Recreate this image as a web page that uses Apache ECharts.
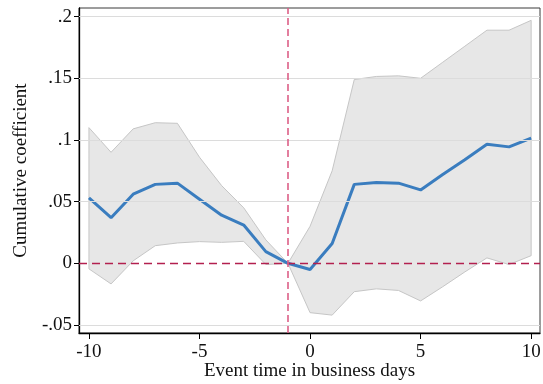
<!DOCTYPE html>
<html>
<head>
<meta charset="utf-8">
<style>
  html, body { margin: 0; padding: 0; background: #fff; }
  #chart { width: 543px; height: 384px; }
</style>
<script src="https://cdn.jsdelivr.net/npm/echarts@6/dist/echarts.min.js"></script>
</head>
<body>
<div id="chart"></div>
<script>
// Event-study estimates: cumulative coefficient with confidence band
const eventDays = [-10, -9, -8, -7, -6, -5, -4, -3, -2, -1, 0, 1, 2, 3, 4, 5, 6, 7, 8, 9, 10];
const coef  = [0.053, 0.037, 0.056, 0.064, 0.065, 0.052, 0.039, 0.031, 0.0095, 0, -0.005, 0.016, 0.064, 0.0655, 0.065, 0.0595, 0.072, 0.084, 0.0966, 0.0944, 0.1015];
const upper = [0.110, 0.090, 0.109, 0.114, 0.1135, 0.086, 0.063, 0.045, 0.019, 0, 0.030, 0.075, 0.149, 0.1515, 0.152, 0.150, 0.163, 0.176, 0.189, 0.189, 0.197];
const lower = [-0.0045, -0.0167, 0.002, 0.0143, 0.0165, 0.0176, 0.017, 0.0178, -0.001, 0, -0.040, -0.042, -0.023, -0.0207, -0.022, -0.0305, -0.019, -0.007, 0.0044, -0.001, 0.0062];

const xTicks = [-10, -5, 0, 5, 10];
const yTicks = [-0.05, 0, 0.05, 0.1, 0.15, 0.2];
const yTickLabels = ['-.05', '0', '.05', '.1', '.15', '.2'];
const eventLine = -1;

const font = 'Liberation Serif';
const chart = echarts.init(document.getElementById('chart'));

function yLabel(v) {
  for (let i = 0; i < yTicks.length; i++) {
    if (Math.abs(yTicks[i] - v) < 1e-9) return yTickLabels[i];
  }
  return '';
}

const bandData = eventDays.map((d, i) => [d, lower[i], upper[i]]);

chart.setOption({
  animation: false,
  grid: {
    left: 79, right: 3, top: 8, bottom: 51,
    outerBoundsMode: 'none', containLabel: false,
    show: true, borderColor: '#3a3a3a', borderWidth: 1, backgroundColor: '#fff'
  },
  xAxis: {
    type: 'value', min: -10.45, max: 10.4,
    name: 'Event time in business days',
    nameLocation: 'middle', nameGap: 29, nameMoveOverlap: false,
    nameTextStyle: { fontFamily: font, fontSize: 19, color: '#111' },
    axisLine: { show: true, onZero: false, lineStyle: { color: '#000', width: 1.3 } },
    axisTick: { show: true, length: 6, customValues: xTicks, lineStyle: { color: '#000', width: 1 } },
    axisLabel: { customValues: xTicks, margin: 10, fontFamily: font, fontSize: 19, color: '#111',
                 formatter: v => String(v) },
    splitLine: { show: false }
  },
  yAxis: {
    type: 'value', min: -0.0565, max: 0.207,
    name: 'Cumulative coefficient',
    nameLocation: 'middle', nameGap: 48, nameMoveOverlap: false,
    nameTextStyle: { fontFamily: font, fontSize: 19, color: '#111' },
    axisLine: { show: true, onZero: false, lineStyle: { color: '#000', width: 1.3 } },
    axisTick: { show: true, length: 5, customValues: yTicks, lineStyle: { color: '#000', width: 1 } },
    axisLabel: { customValues: yTicks, margin: 7, fontFamily: font, fontSize: 19, color: '#111',
                 formatter: yLabel },
    splitLine: { show: false }
  },
  series: [
    {
      // horizontal grid lines at the labelled y values (zero gets its own dashed line)
      type: 'line', data: eventDays.map((d, i) => [d, coef[i]]),
      z: 1, silent: true, showSymbol: false,
      lineStyle: { opacity: 0 },
      markLine: {
        silent: true, symbol: 'none', animation: false,
        label: { show: false },
        lineStyle: { color: '#dcdcdc', width: 1, type: 'solid' },
        data: yTicks.filter(v => v !== 0).map(v => ({ yAxis: v }))
      }
    },
    {
      // confidence band as a single polygon
      type: 'custom', z: 2, silent: true,
      data: bandData,
      encode: { x: 0, y: [1, 2] },
      renderItem: function (params, api) {
        if (params.dataIndex !== 0) return null;
        const pts = [];
        for (let i = 0; i < eventDays.length; i++) pts.push(api.coord([eventDays[i], upper[i]]));
        for (let i = eventDays.length - 1; i >= 0; i--) pts.push(api.coord([eventDays[i], lower[i]]));
        return {
          type: 'polygon',
          shape: { points: pts },
          style: { fill: 'rgba(196,196,196,0.4)', stroke: '#c6c6c6', lineWidth: 1 }
        };
      }
    },
    {
      type: 'line', z: 4,
      data: eventDays.map((d, i) => [d, coef[i]]),
      showSymbol: false, silent: true,
      lineStyle: { color: '#3a7dbf', width: 3 },
      markLine: {
        silent: true, symbol: 'none', animation: false,
        label: { show: false },
        data: [
          { yAxis: 0, lineStyle: { color: '#b3204f', width: 1.4, type: [8, 5] } },
          { xAxis: eventLine, lineStyle: { color: '#dc5f87', width: 1.6, type: [7, 4] } }
        ]
      }
    }
  ]
});
</script>
</body>
</html>
